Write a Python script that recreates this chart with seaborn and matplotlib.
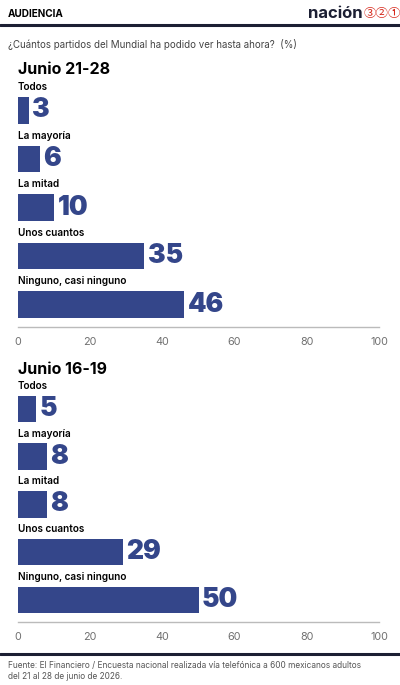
import pandas as pd
import seaborn as sns
import matplotlib.pyplot as plt

categorias = ["Todos", "La mayoría", "La mitad", "Unos cuantos", "Ninguno, casi ninguno"]
junio_21_28 = [3, 6, 10, 35, 46]
junio_16_19 = [5, 8, 8, 29, 50]
titulos = ["Junio 21-28", "Junio 16-19"]
ticks_x = [0, 20, 40, 60, 80, 100]

AZUL = "#34468a"
OSCURO = "#1c1f33"
GRIS = "#555555"
W, H = 400, 685


def px(x, y):
    # pixel (desde arriba-izquierda) -> fracción de figura
    return x / W, 1 - y / H


def panel(fig, top, bottom, valores, titulo):
    x0, y0 = px(18, bottom)
    ax = fig.add_axes([x0, y0, (379 - 18) / W, (bottom - top) / H])
    datos = pd.DataFrame({"Categoría": categorias, "Valor": valores})
    sns.barplot(data=datos, x="Valor", y="Categoría", orient="h",
                color=AZUL, width=0.55, saturation=1, linewidth=0, ax=ax)
    ax.set_xlim(0, 100)
    ax.set_ylim(4.46, -0.75)
    ax.set_xticks(ticks_x)
    ax.set_yticks([])
    ax.set_xlabel("")
    ax.set_ylabel("")
    for s in ["top", "left", "right"]:
        ax.spines[s].set_visible(False)
    ax.spines["bottom"].set_color("#bbbbbb")
    ax.spines["bottom"].set_linewidth(1)
    ax.tick_params(axis="x", direction="in", length=5, color="#bbbbbb",
                   labelsize=7.8, labelcolor="#707070", pad=7)
    for i, c in enumerate(categorias):
        ax.text(0, i - 0.48, c, fontsize=7.2, fontweight="semibold",
                color="black", va="center", ha="left")
    ax.bar_label(ax.containers[0], padding=2.5, fontsize=19,
                 fontweight="black", color=AZUL)
    fx, fy = px(18, top - 4)
    fig.text(fx, fy, titulo, fontsize=11.5, fontweight="bold",
             color="black", va="center", ha="left")
    return ax


def main() -> None:
    sns.set_style("white")
    plt.rcParams["font.family"] = ["Inter", "DejaVu Sans"]

    fig = plt.figure(figsize=(W / 100, H / 100), dpi=100)

    # encabezado
    fig.text(*px(8, 14), "AUDIENCIA", fontsize=7.2, fontweight="bold",
             color="black", va="center", ha="left")
    fig.text(*px(363, 13), "nación", fontsize=12, fontweight="bold",
             color=OSCURO, va="center", ha="right")
    fig.text(*px(364, 14), "③②①", fontsize=9, color="#d62a1e",
             va="center", ha="left",
             family=["Noto Sans CJK JP", "DejaVu Sans"])
    fig.add_artist(plt.Line2D([0, 1], [px(0, 25)[1]] * 2,
                              color=OSCURO, linewidth=2.2))
    fig.text(*px(8, 45), "¿Cuántos partidos del Mundial ha podido ver hasta ahora?  (%)",
             fontsize=7, color="#444444", va="center", ha="left")

    panel(fig, 74, 327, junio_21_28, titulos[0])
    panel(fig, 373, 622, junio_16_19, titulos[1])

    # pie
    fig.add_artist(plt.Line2D([0, 1], [px(0, 654)[1]] * 2,
                              color=OSCURO, linewidth=2.2))
    fig.text(*px(8, 671),
             "Fuente: El Financiero / Encuesta nacional realizada vía telefónica a 600 mexicanos adultos\n"
             "del 21 al 28 de junio de 2026.",
             fontsize=6, color=GRIS, va="center", ha="left", linespacing=1.3)

    fig.savefig("out.png", dpi=100)


if __name__ == "__main__":
    main()
